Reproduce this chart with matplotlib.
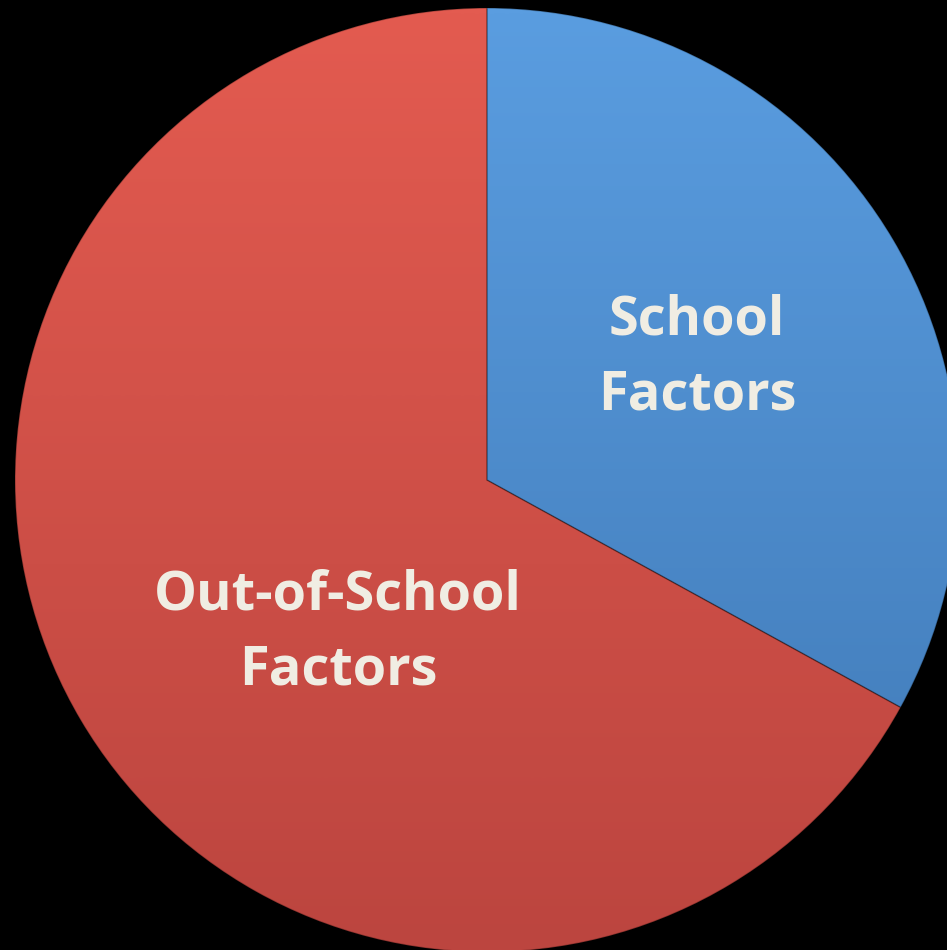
import numpy as np
import matplotlib
matplotlib.use("Agg")
import matplotlib.pyplot as plt
from matplotlib.colors import LinearSegmentedColormap

labels = ["School\nFactors", "Out-of-School\nFactors"]
values = [33, 67]
top_colors = ["#5A9DE0", "#E35B50"]
bottom_colors = ["#3F78B5", "#BC453F"]
label_pos = [(697, 358), (338, 633)]  # pixel coords from top-left

W, H = 947, 950
fig = plt.figure(figsize=(W / 100, H / 100), dpi=100, facecolor="black")
ax = fig.add_axes([0, 0, 1, 1])
ax.set_facecolor("black")

cx, cy, r = 487, H - 480, 472
wedges, _ = ax.pie(values, startangle=90, counterclock=False, center=(cx, cy),
                   radius=r, frame=True,
                   wedgeprops=dict(edgecolor="#00000040", linewidth=1.0))
ax.set_xlim(0, W)
ax.set_ylim(0, H)
ax.set_aspect("equal")
ax.axis("off")

grad = np.linspace(0, 1, 256).reshape(-1, 1)
for w, c0, c1 in zip(wedges, top_colors, bottom_colors):
    cmap = LinearSegmentedColormap.from_list("g", [c0, c1])
    im = ax.imshow(grad, cmap=cmap, extent=(cx - r, cx + r, cy - r, cy + r),
                   origin="upper", aspect="auto", zorder=2,
                   interpolation="bilinear")
    im.set_clip_path(w)
    w.set_zorder(3)
    w.set_facecolor("none")

for lab, (x, y) in zip(labels, label_pos):
    ax.text(x, H - y, lab, ha="center", va="center", color="#F0EDE3",
            fontsize=39, fontweight="bold", family=["Open Sans", "DejaVu Sans"],
            linespacing=1.5, zorder=5)

fig.savefig("out.png", dpi=100, facecolor="black")
